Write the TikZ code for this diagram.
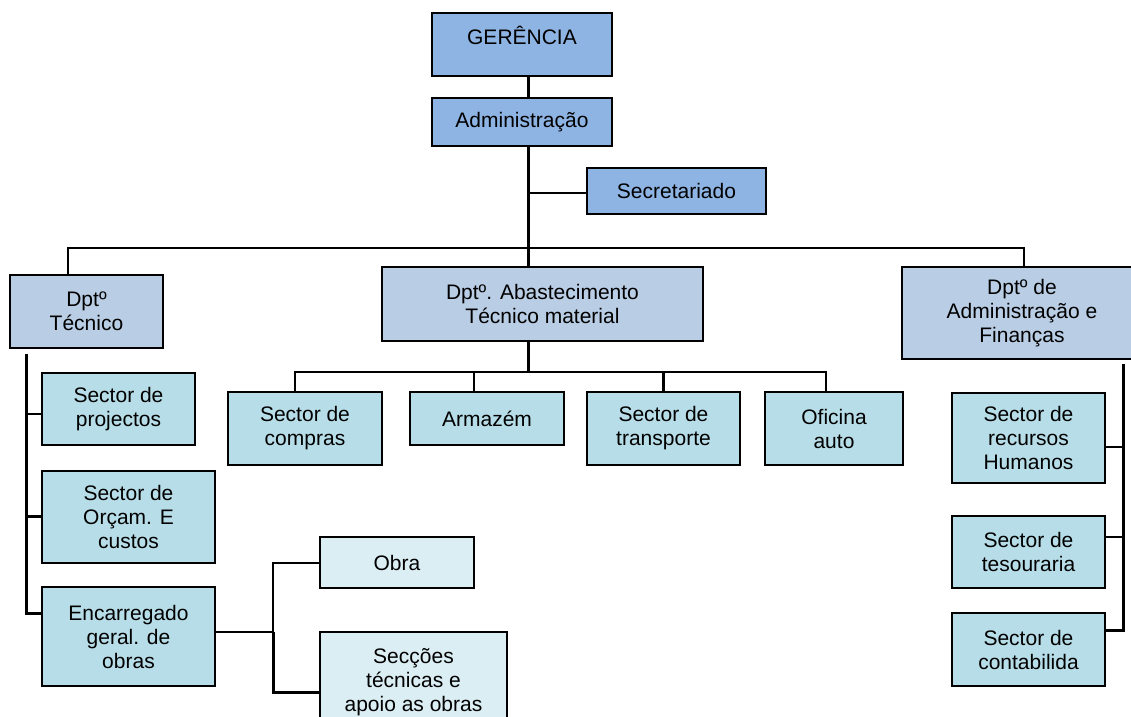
\documentclass[tikz,border=0pt]{standalone}
\usepackage{fontspec}
\setmainfont{Liberation Sans}
\definecolor{gerfill}{HTML}{8EB4E3}
\definecolor{dptfill}{HTML}{B9CDE5}
\definecolor{secfill}{HTML}{B7DEE8}
\definecolor{obrafill}{HTML}{DBEEF4}
\tikzset{
  box/.style 2 args={draw=black,line width=1pt,align=center,inner sep=0pt,minimum width=#1*0.5pt,minimum height=#2*0.5pt},
  gerbox/.style 2 args={box={#1}{#2},fill=gerfill},
  dptbox/.style 2 args={box={#1}{#2},fill=dptfill},
  secbox/.style 2 args={box={#1}{#2},fill=secfill},
  obrabox/.style 2 args={box={#1}{#2},fill=obrafill},
  link/.style={line width=1pt},
  trunk/.style={line width=1.5pt}
}

\begin{document}
\begin{tikzpicture}[x=0.5pt,y=-0.5pt,font=\fontsize{10.5}{12}\selectfont]
\useasboundingbox (0,0) rectangle (1131,717);
\clip (0,0) rectangle (1131,717);
\node[gerbox={180}{63},anchor=north,text height=16pt,text depth=15.5pt] (ger) at (522,12) {GERÊNCIA};
\node[gerbox={180}{48}] (adm) at (522,122) {Administração};
\node[gerbox={179}{46}] (sec) at (676.5,191) {Secretariado};
\node[dptbox={153}{73}] (dtec) at (86.5,311.5) {Dptº\\Técnico};
\node[dptbox={321}{74}] (dabs) at (542.5,304) {Dptº. Abastecimento\\Técnico material};
\node[dptbox={240}{92}] (dfin) at (1022,313) {Dptº de\\Administração e\\Finanças};
\node[secbox={153}{72}] (sproj) at (118.5,409) {Sector de\\projectos};
\node[secbox={173}{92}] (sorc) at (128.5,517) {Sector de\\Orçam. E\\custos};
\node[secbox={173}{99}] (senc) at (128.5,636.5) {Encarregado\\geral. de\\obras};
\node[secbox={154}{73}] (scomp) at (305,428.5) {Sector de\\compras};
\node[secbox={154}{53}] (sarm) at (487,418.5) {Armazém};
\node[secbox={153}{73}] (stra) at (663.5,428.5) {Sector de\\transporte};
\node[secbox={138}{73}] (sofi) at (834,428.5) {Oficina\\auto};
\node[secbox={153}{90}] (srh) at (1028.5,438) {Sector de\\recursos\\Humanos};
\node[secbox={153}{72}] (stes) at (1028.5,552) {Sector de\\tesouraria};
\node[secbox={153}{73}] (scon) at (1028.5,649.5) {Sector de\\contabilida};
\node[obrabox={154}{51}] (obra) at (397,562.5) {Obra};
\node[obrabox={187}{100}] (secc) at (413.5,682) {Secções\\técnicas e\\apoio as obras};
\coordinate (hub) at (528,248);
\coordinate (secj) at (528,193);
\coordinate (barL) at (68,248);
\coordinate (barR) at (1024,248);
\coordinate (tecT) at (26,354);
\coordinate (projj) at (26,414);
\coordinate (orcj) at (26,516);
\coordinate (encj) at (26,613);
\coordinate (midL) at (295,372);
\coordinate (midR) at (826,372);
\coordinate (armj) at (474,372);
\coordinate (traj) at (663,372);
\coordinate (finT) at (1123,364);
\coordinate (rhj) at (1123,447);
\coordinate (tesj) at (1123,537);
\coordinate (conj) at (1123,630);
\coordinate (obrj) at (273,632);
\coordinate (seccj) at (273,692);
\draw[trunk] (ger.south -| hub) -- (adm.north -| hub);
\draw[trunk] (adm.south -| hub) -- (dabs.north -| hub);
\draw[link] (secj) -- (secj -| sec.west);
\draw[link] (dtec.north -| barL) -- (barL) -- (barR) -- (dfin.north -| barR);
\draw[trunk] (tecT) -- (encj) -- (encj -| senc.west);
\draw[trunk] (orcj) -- (orcj -| sorc.west);
\draw[link] (projj) -- (projj -| sproj.west);
\draw[trunk] (dabs.south -| hub) -- (hub |- midL);
\draw[link] (scomp.north -| midL) -- (midL) -- (midR) -- (sofi.north -| midR);
\draw[link] (armj) -- (sarm.north -| armj);
\draw[trunk] (traj) -- (stra.north -| traj);
\draw[trunk] (finT) -- (conj) -- (conj -| scon.east);
\draw[link] (rhj) -- (rhj -| srh.east);
\draw[link] (tesj) -- (tesj -| stes.east);
\draw[link] (senc.east |- obrj) -- (obrj);
\draw[link] (obra.west) -| (obrj);
\draw[trunk] (obrj) -- (seccj) -- (seccj -| secc.west);
\end{tikzpicture}
\end{document}
